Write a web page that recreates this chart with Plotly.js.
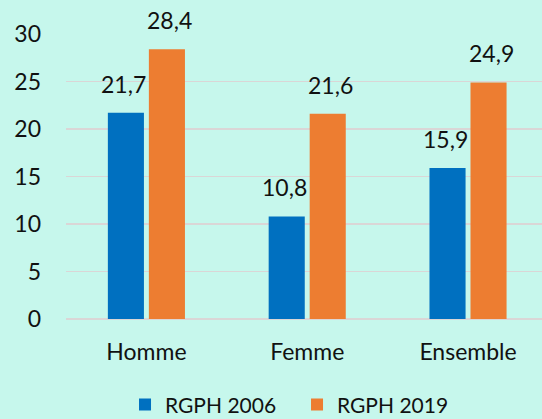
<!DOCTYPE html>
<html>
<head>
<meta charset="utf-8">
<script src="https://cdn.plot.ly/plotly-3.0.1.min.js"></script>
<style>html,body{margin:0;padding:0;background:#c6f7ec;}#chart{width:542px;height:419px;}</style>
</head>
<body>
<div id="chart"></div>
<script>
const categories = ["Homme", "Femme", "Ensemble"];
const rgph2006 = [21.7, 10.8, 15.9];
const rgph2019 = [28.4, 21.6, 24.9];
const seriesNames = ["RGPH 2006", "RGPH 2019"];
const yTicks = [0, 5, 10, 15, 20, 25, 30];

const font = {family: "Lato, 'Open Sans', sans-serif", size: 23, color: "#111"};
const legendFont = {family: "Lato, 'Open Sans', sans-serif", size: 21, color: "#111"};

const traces = [
  {type: "bar", name: seriesNames[0], x: categories, y: rgph2006, marker: {color: "#0070c0"}},
  {type: "bar", name: seriesNames[1], x: categories, y: rgph2019, marker: {color: "#ed7d31"}}
];

const fmt = v => v.toFixed(1).replace(".", ",");
const annotations = [];
[[rgph2006, -23], [rgph2019, 23]].forEach(([vals, dx]) => {
  categories.forEach((c, i) => {
    annotations.push({x: c, y: vals[i], xref: "x", yref: "y", text: fmt(vals[i]),
      showarrow: false, xanchor: "center", yanchor: "bottom", xshift: dx, yshift: 13,
      font: font});
  });
});

const layout = {
  width: 542, height: 419,
  paper_bgcolor: "#c6f7ec", plot_bgcolor: "#c6f7ec",
  margin: {l: 66, r: 0, t: 34, b: 100},
  separators: ", ",
  font: font,
  barmode: "group", bargap: 0.49, bargroupgap: 0.12,
  xaxis: {range: [-0.5, 2.46], showgrid: false, showline: false, ticks: "",
          tickfont: font, ticklabelstandoff: 17, fixedrange: true, automargin: false},
  yaxis: {range: [0, 30], tickvals: yTicks, showgrid: true, gridcolor: "#dad6d6",
          gridwidth: 1.3, zeroline: true, zerolinecolor: "#dad6d6", zerolinewidth: 1.3,
          showline: false, ticks: "", tickfont: font, ticklabelstandoff: 24, automargin: false},
  annotations: annotations,
  showlegend: true,
  legend: {orientation: "h", xref: "container", yref: "container", x: 0.548, xanchor: "center",
           y: 0.034, yanchor: "middle", font: legendFont, bgcolor: "rgba(0,0,0,0)",
           traceorder: "normal", entrywidth: 127, itemwidth: 30}
};

Plotly.newPlot("chart", traces, layout, {displayModeBar: false, staticPlot: true});
</script>
</body>
</html>
